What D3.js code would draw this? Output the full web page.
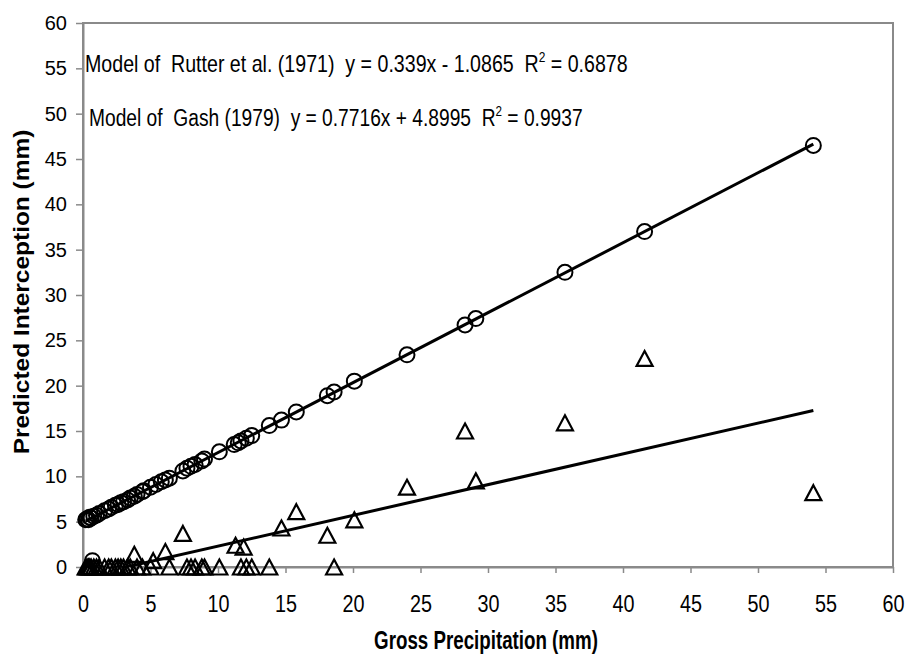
<!DOCTYPE html>
<html>
<head>
<meta charset="utf-8">
<script src="https://cdn.jsdelivr.net/npm/d3@7"></script>
<style>
  html, body { margin: 0; padding: 0; background: #fff; }
  svg { display: block; }
  text.pre { white-space: pre; }
</style>
</head>
<body>
<svg id="chart" width="905" height="655"></svg>
<script>
// ---------------- DATA ----------------
const xTicks = [0, 5, 10, 15, 20, 25, 30, 35, 40, 45, 50, 55, 60];
const yTicks = [0, 5, 10, 15, 20, 25, 30, 35, 40, 45, 50, 55, 60];

// Gash (1979) model predictions (circles)
const gashX = [0.2, 0.3, 0.4, 0.5, 0.6, 0.8, 1.0, 1.2, 1.6, 1.9, 2.1, 2.4, 2.6, 2.8, 3.0, 3.3, 3.5, 3.8, 4.0, 4.4, 4.5, 5.0, 5.4, 5.8, 6.1, 6.4, 7.4, 7.7, 8.0, 8.3, 8.8, 9.0, 10.1, 11.2, 11.5, 11.7, 12.1, 12.5, 13.8, 14.7, 15.8, 18.1, 18.6, 20.1, 24.0, 28.3, 29.1, 35.7, 41.6, 54.1, 0.7];
const gashY = [5.2, 5.3, 5.2, 5.5, 5.4, 5.6, 5.7, 5.9, 6.2, 6.4, 6.6, 6.8, 6.9, 7.1, 7.2, 7.4, 7.6, 7.8, 8.0, 8.3, 8.4, 8.8, 9.1, 9.4, 9.6, 9.8, 10.6, 10.9, 11.1, 11.3, 11.7, 11.9, 12.7, 13.5, 13.7, 13.9, 14.2, 14.5, 15.6, 16.2, 17.1, 18.9, 19.3, 20.5, 23.4, 26.7, 27.4, 32.5, 37.0, 46.5, 0.7];

// Rutter et al. (1971) model predictions (triangles)
const rutterX = [0.2, 0.3, 0.4, 0.5, 0.6, 0.8, 1.0, 1.2, 1.6, 1.9, 2.1, 2.4, 2.6, 2.8, 3.0, 3.3, 3.5, 4.0, 4.4, 5.0, 6.4, 7.7, 8.0, 8.3, 8.8, 9.0, 10.1, 11.7, 12.1, 12.5, 13.8, 18.6,
                 3.8, 5.2, 6.1, 7.4, 11.3, 11.9, 14.7, 15.8, 18.1, 20.1, 24.0, 28.3, 29.1, 35.7, 41.6, 54.1];
const rutterY = [0, 0, 0, 0, 0, 0, 0, 0, 0, 0, 0, 0, 0, 0, 0, 0, 0, 0, 0, 0, 0, 0, 0, 0, 0, 0, 0, 0, 0, 0, 0, 0,
                 1.4, 0.7, 1.7, 3.7, 2.4, 2.2, 4.3, 6.1, 3.5, 5.2, 8.8, 15.0, 9.5, 15.9, 23.0, 8.2];

// Linear trendlines
const gashFit = { slope: 0.7716, intercept: 4.8995 };
const rutterFit = { slope: 0.339, intercept: -1.0865 };

const labelRutter = ["Model of  Rutter et al. (1971)  y = 0.339x - 1.0865  R", "2", " = 0.6878"];
const labelGash = ["Model of  Gash (1979)  y = 0.7716x + 4.8995  R", "2", " = 0.9937"];
const xTitle = "Gross Precipitation (mm)";
const yTitle = "Predicted Interception (mm)";

// ---------------- CHART ----------------
const svg = d3.select("#chart");
const L = 83, R = 893, T = 23, B = 567;
const x = d3.scaleLinear().domain([0, 60]).range([L, R]);
const y = d3.scaleLinear().domain([0, 60]).range([B, T]);
const axisColor = "#8a8a8a";
const font = "'Liberation Sans', Arial, sans-serif";
const narrow = "'Liberation Sans Narrow', 'Arial Narrow', 'Liberation Sans', Arial, sans-serif";

svg.append("defs").append("clipPath").attr("id", "plotclip")
  .append("rect").attr("x", L).attr("y", T).attr("width", R - L).attr("height", B - T);

// plot border
svg.append("rect").attr("x", L).attr("y", T).attr("width", R - L).attr("height", B - T)
  .attr("fill", "none").attr("stroke", axisColor).attr("stroke-width", 2);

// axes
const gy = svg.append("g").attr("transform", `translate(${L},0)`)
  .call(d3.axisLeft(y).tickValues(yTicks).tickSize(7).tickSizeOuter(0).tickPadding(9).tickFormat(d3.format("d")));
const gx = svg.append("g").attr("transform", `translate(0,${B})`)
  .call(d3.axisBottom(x).tickValues(xTicks).tickSize(6).tickSizeOuter(0).tickPadding(0).tickFormat(d3.format("d")));
[gx, gy].forEach(g => {
  g.select(".domain").attr("stroke", axisColor).attr("stroke-width", 2);
  g.selectAll(".tick line").attr("stroke", axisColor).attr("stroke-width", 1.5);
  g.selectAll(".tick text").attr("fill", "#000").attr("font-family", font);
});
gy.selectAll(".tick text").attr("font-size", 20);
gx.selectAll(".tick text").attr("font-size", 23).attr("dy", null).attr("y", null)
  .attr("transform", "translate(0,45) scale(0.86,1)");

// markers
const plot = svg.append("g");
const gashPts = gashX.map((v, i) => ({ x: v, y: gashY[i] }));
const rutterPts = rutterX.map((v, i) => ({ x: v, y: rutterY[i] }));

plot.selectAll("circle.gash").data(gashPts).join("circle")
  .attr("class", "gash")
  .attr("cx", d => x(d.x)).attr("cy", d => y(d.y)).attr("r", 7.5)
  .attr("fill", "none").attr("stroke", "#000").attr("stroke-width", 2);

const triW = 16, triH = 15;
const triPath = `M0,${-triH / 2}L${triW / 2},${triH / 2}L${-triW / 2},${triH / 2}Z`;
plot.selectAll("path.rutter").data(rutterPts).join("path")
  .attr("class", "rutter")
  .attr("d", triPath)
  .attr("transform", d => `translate(${x(d.x)},${y(d.y)})`)
  .attr("fill", "none").attr("stroke", "#000").attr("stroke-width", 2.2).attr("stroke-linejoin", "miter");

// trendlines
function trend(fit, pts) {
  const ext = d3.extent(pts, d => d.x);
  return ext.map(v => ({ x: v, y: fit.slope * v + fit.intercept }));
}
const line = d3.line().x(d => x(d.x)).y(d => y(d.y));
const lines = svg.append("g").attr("clip-path", "url(#plotclip)");
lines.append("path").datum(trend(gashFit, gashPts)).attr("d", line)
  .attr("fill", "none").attr("stroke", "#000").attr("stroke-width", 3);
lines.append("path").datum(trend(rutterFit, rutterPts)).attr("d", line)
  .attr("fill", "none").attr("stroke", "#000").attr("stroke-width", 3);

// helper to fit text width
function fitText(sel, target, tx, ty, rot, anchor) {
  const w = sel.node().getBBox().width;
  const s = target / w;
  sel.attr("text-anchor", anchor)
     .attr("transform", `translate(${tx},${ty})${rot ? " rotate(" + rot + ")" : ""} scale(${s},1)`);
}

function annot(parts, tx, ty, target) {
  const t = svg.append("text").attr("class", "pre").attr("x", 0).attr("y", 0)
    .attr("font-family", narrow).attr("font-size", 23).attr("fill", "#000");
  t.append("tspan").text(parts[0]);
  t.append("tspan").text(parts[1]).attr("font-size", 14).attr("dy", -10);
  t.append("tspan").text(parts[2]).attr("dy", 10);
  fitText(t, target, tx, ty, 0, "start");
}
annot(labelRutter, 85, 72, 543);
annot(labelGash, 89, 126, 494);

// axis titles
const xt = svg.append("text").attr("x", 0).attr("y", 0).text(xTitle)
  .attr("font-family", font).attr("font-weight", "bold").attr("font-size", 25).attr("fill", "#000");
fitText(xt, 224, 486, 649, 0, "middle");
const yt = svg.append("text").attr("x", 0).attr("y", 0).text(yTitle)
  .attr("font-family", font).attr("font-weight", "bold").attr("font-size", 22).attr("fill", "#000");
fitText(yt, 325, 29, 292, -90, "middle");
</script>
</body>
</html>
